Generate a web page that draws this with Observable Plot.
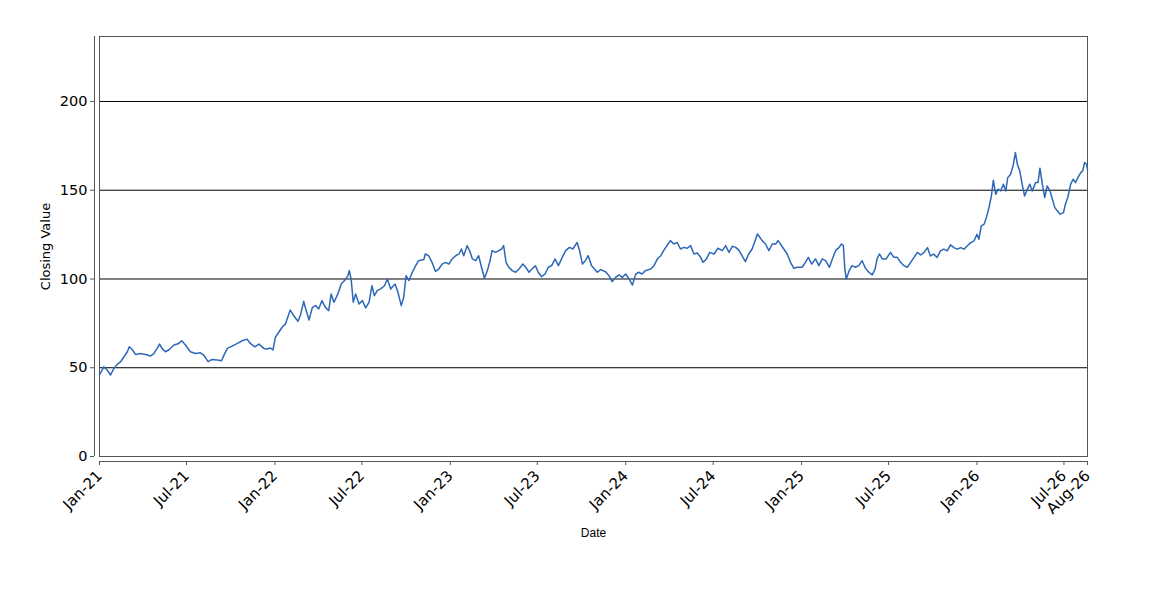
<!DOCTYPE html>
<html><head><meta charset="utf-8">
<script src="https://cdn.jsdelivr.net/npm/d3@7"></script>
<script src="https://cdn.jsdelivr.net/npm/@observablehq/plot@0.6"></script>
<style>body{margin:0;background:#fff;} svg{display:block}</style>
</head><body><div id="chart"></div>
<script>
// Month-day of each reading, per year, and the closing values
const d2021 = ["01-01","01-10","01-17","01-24","01-31","02-07","02-14","02-21","02-28","03-04","03-10","03-17","03-27","04-07","04-17","04-24","05-01","05-06","05-11","05-18","05-25","06-05","06-15","06-21","06-29","07-09","07-20","07-30","08-06","08-15","08-23","09-03","09-12","09-17","09-24","10-04","10-15","10-25","11-04","11-11","11-20","11-29","12-09","12-16","12-23","12-28"];
const v2021 = [45.9,50.5,48.7,45.9,49.6,51.9,53.4,56.2,59.0,61.8,60.3,57.5,58.0,57.5,56.6,58.0,60.9,63.3,60.9,59.0,60.0,62.8,63.7,65.2,62.8,59.0,58.0,58.4,57.1,53.4,54.7,54.3,53.9,57.1,60.9,62.2,63.7,65.2,66.1,63.7,61.8,63.3,60.9,60.6,61.1,60.0];

const d2022 = ["01-02","01-09","01-16","01-23","01-30","02-02","02-09","02-18","02-23","03-02","03-07","03-13","03-20","03-27","04-02","04-09","04-16","04-23","04-28","05-04","05-12","05-19","05-26","06-02","06-05","06-09","06-13","06-18","06-25","07-02","07-09","07-16","07-22","07-27","08-02","08-09","08-17","08-23","08-30","09-08","09-14","09-21","09-26","10-01","10-07","10-14","10-21","10-27","11-07","11-10","11-17","11-24","12-01","12-08","12-15","12-22","12-29"];
const v2022 = [67.2,70.0,72.8,74.7,80.3,82.5,79.4,76.2,79.4,87.4,82.2,76.9,84.0,85.0,83.1,87.8,84.0,82.2,91.6,86.9,91.6,97.2,99.1,101.9,104.7,99.1,86.9,91.6,85.9,87.8,83.7,86.9,96.2,90.6,93.4,94.4,96.2,100.0,94.4,97.2,92.5,85.0,89.7,101.9,99.1,103.8,107.5,110.3,111.0,114.1,113.1,109.4,104.3,105.6,108.4,109.4,108.4];

const d2023 = ["01-05","01-12","01-19","01-24","01-29","02-05","02-10","02-16","02-23","03-01","03-07","03-13","03-19","03-24","03-29","04-05","04-12","04-18","04-22","04-27","05-03","05-10","05-17","05-24","06-01","06-07","06-14","06-20","06-27","07-03","07-10","07-17","07-24","07-31","08-07","08-14","08-22","08-29","09-06","09-13","09-22","09-27","10-03","10-09","10-15","10-22","11-03","11-10","11-20","11-27","12-04","12-11","12-18","12-25"];
const v2023 = [111.3,113.1,114.1,116.9,113.1,118.8,116.0,111.3,110.3,113.1,106.6,100.4,104.7,109.4,116.0,115.0,116.0,116.9,118.8,109.4,106.6,104.7,103.8,105.6,108.4,106.6,103.8,105.6,107.5,103.8,101.3,102.8,106.6,107.5,111.3,107.5,112.2,116.0,117.8,116.9,120.6,116.0,108.4,110.3,113.1,107.5,103.8,105.3,104.1,101.9,98.5,100.9,102.3,100.9];

const d2024 = ["01-01","01-08","01-15","01-22","01-28","02-04","02-11","02-22","02-29","03-07","03-14","03-20","03-29","04-03","04-10","04-17","04-24","05-01","05-08","05-15","05-22","05-29","06-05","06-10","06-17","06-24","07-03","07-11","07-20","07-27","08-03","08-10","08-17","08-24","08-30","09-06","09-13","09-20","09-25","10-01","10-06","10-11","10-18","10-25","11-01","11-08","11-13","11-18","11-25","12-02","12-09","12-16","12-23"];
const v2024 = [102.8,100.0,96.6,102.8,103.8,102.8,104.7,105.6,107.5,111.3,113.1,116.0,119.7,121.6,119.7,120.6,116.9,117.8,117.3,118.8,114.1,114.6,112.2,109.4,111.3,115.0,114.1,117.3,116.0,118.8,115.0,118.4,117.8,116.0,113.1,109.8,114.1,116.9,120.6,125.3,123.5,121.6,119.7,116.0,119.7,119.7,121.6,119.7,116.9,114.1,109.4,106.0,106.6];

const d2025 = ["01-02","01-09","01-15","01-22","01-30","02-06","02-13","02-20","02-28","03-06","03-13","03-20","03-25","03-29","04-01","04-04","04-10","04-16","04-23","04-30","05-07","05-14","05-21","05-28","06-03","06-07","06-12","06-18","06-26","07-05","07-12","07-19","07-26","08-02","08-09","08-16","08-23","08-30","09-06","09-13","09-20","09-26","10-03","10-10","10-17","10-24","10-31","11-07","11-14","11-21","11-28","12-05","12-12","12-19","12-26"];
const v2025 = [106.6,109.4,112.2,108.4,111.3,107.5,111.3,110.3,106.6,111.3,116.0,117.8,119.7,118.8,105.6,100.0,104.7,107.5,106.6,107.5,110.3,106.0,103.8,102.3,105.6,111.3,114.1,111.3,111.3,115.0,112.2,112.2,109.4,107.5,106.6,109.4,112.2,115.0,113.5,115.0,117.7,113.0,114.0,112.1,115.8,116.8,115.8,119.2,117.7,116.8,117.7,116.8,118.7,120.5,121.5];

const d2026 = ["01-01","01-05","01-10","01-16","01-21","01-26","01-31","02-04","02-09","02-14","02-19","02-25","03-02","03-06","03-12","03-17","03-22","03-26","03-31","04-05","04-10","04-16","04-21","04-26","05-03","05-08","05-12","05-17","05-22","05-27","06-02","06-07","06-12","06-17","06-23","06-30","07-04","07-09","07-15","07-20","07-25","07-30","08-05","08-09","08-13","08-17","08-19"];
const v2026 = [125.2,122.4,129.9,130.9,135.0,140.2,146.8,155.6,147.7,150.6,149.6,153.4,149.6,157.1,159.0,163.7,171.2,164.6,160.9,153.4,146.8,150.6,153.4,149.6,154.3,154.3,162.4,153.4,145.9,152.4,149.6,144.9,140.2,138.4,136.5,137.4,142.1,145.9,153.4,156.2,154.3,157.1,159.9,160.9,165.6,164.6,161.8];

const yTicks = [0, 50, 100, 150, 200];
const gridValues = [50, 100, 150, 200];
const xTickDates = ["2021-01-01","2021-07-01","2022-01-01","2022-07-01","2023-01-01","2023-07-01","2024-01-01","2024-07-01","2025-01-01","2025-07-01","2026-01-01","2026-07-01","2026-08-19"];
const xLabel = "Date";
const yLabel = "Closing Value";

const years = [[2021,d2021,v2021],[2022,d2022,v2022],[2023,d2023,v2023],[2024,d2024,v2024],[2025,d2025,v2025],[2026,d2026,v2026]];
const data = [];
for (const [yr, ds, vs] of years) ds.forEach((md, i) => data.push({date: new Date(`${yr}-${md}T00:00:00Z`), value: vs[i]}));
const xTicks = xTickDates.map(s => new Date(s + "T00:00:00Z"));
const start = xTicks[0], end = xTicks[xTicks.length - 1];
const fmt = d3.utcFormat("%b-%y");

const chart = Plot.plot({
  width: 1150, height: 600,
  marginTop: 36, marginBottom: 144, marginLeft: 99, marginRight: 63,
  style: {fontFamily: "DejaVu Sans", background: "#fff", color: "#000"},
  x: {type: "utc", domain: [start, end]},
  y: {domain: [0, 236.6]},
  marks: [
    Plot.ruleY(gridValues, {stroke: "#000", strokeWidth: 1}),
    Plot.frame({stroke: "#555"}),
    Plot.line(data, {x: "date", y: "value", stroke: "#2c68b6", strokeWidth: 1.5}),
    Plot.axisY({ticks: yTicks, tickSize: 4, dx: -5, tickPadding: 3, fontSize: 14.5, label: null, stroke: "#555"}),
    Plot.ruleX([start], {dx: -5, stroke: "#555"}),
    Plot.axisX({ticks: xTicks, tickFormat: fmt, tickSize: 4, dy: 5, tickRotate: -45, fontSize: 15, label: null, stroke: "#555"}),
    Plot.ruleY([0], {dy: 5, stroke: "#555"}),
    Plot.text([xLabel], {text: d => d, frameAnchor: "bottom", dy: 80, fontSize: 12, fontFamily: "Liberation Sans"}),
    Plot.text([yLabel], {text: d => d, frameAnchor: "left", textAnchor: "middle", dx: -54, rotate: -90, fontSize: 13})
  ]
});
document.getElementById("chart").append(chart);
</script>
</body></html>
